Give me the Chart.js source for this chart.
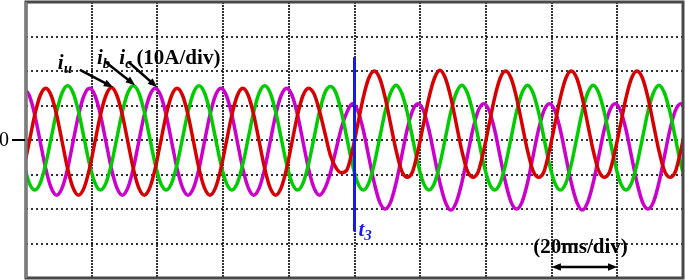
<!DOCTYPE html>
<html>
<head>
<meta charset="utf-8">
<script src="https://cdn.jsdelivr.net/npm/chart.js@4.4.0/dist/chart.umd.min.js"></script>
<style>
body{margin:0;background:#fff}
</style>
</head>
<body>
<canvas id="myChart" width="685" height="280"></canvas>
<script>
// time in ms, currents in A
const time = [
  -0.67, 1, 2.67, 4.33, 6, 7.67, 9.33, 11, 12.67, 14.33, 16, 17.67,
  19.33, 21, 22.67, 24.33, 26, 27.67, 29.33, 31, 32.67, 34.33, 36, 37.67,
  39.33, 41, 42.67, 44.33, 46, 47.67, 49.33, 51, 52.67, 54.33, 56, 57.67,
  59.33, 61, 62.67, 64.33, 66, 67.67, 69.33, 71, 72.67, 74.33, 76, 77.67,
  79.33, 81, 82.67, 84.33, 86, 87.67, 89.33, 91, 92.67, 94.33, 96, 97.67,
  99.33, 101, 102.67, 104.33, 106, 107.67, 109.33, 111, 112.67, 114.33, 116, 117.67,
  119.33, 121, 122.67, 124.33, 126, 127.67, 129.33, 131, 132.67, 134.33, 136, 137.67,
  139.33, 141, 142.67, 144.33, 146, 147.67, 149.33, 151, 152.67, 154.33, 156, 157.67,
  159.33, 161, 162.67, 164.33, 166, 167.67, 169.33, 171, 172.67, 174.33, 176, 177.67,
  179.33, 181, 182.67, 184.33, 186, 187.67, 189.33, 191, 192.67, 194.33, 196, 197.67,
  199.33, 201
]
const iu = [
  -8.3, -0.5, 7.3, 12.9, 15, 12.9, 7.3, -0.5, -8.3, -13.9, -16, -13.9,
  -8.3, -0.5, 7.3, 12.9, 15.2, 12.9, 7.3, -0.5, -8.3, -13.9, -16, -13.9,
  -8.3, -0.5, 7.3, 12.9, 15, 12.9, 7.3, -0.5, -8.3, -13.9, -16, -13.9,
  -8.3, -0.5, 7.3, 12.9, 15, 12.9, 7.3, -0.5, -8.3, -13.9, -16, -13.9,
  -8.3, -0.5, 7.3, 12.9, 15, 13.4, 8.5, 2, -4.5, -8, -9.5, -8.7,
  -3.1, 4.6, 12.3, 17.9, 20, 17.9, 12.3, 4.6, -3.1, -8.9, -10.8, -9.2,
  -3.1, 4.6, 12.3, 17.9, 20.2, 17.9, 12.3, 4.6, -3.1, -8.9, -10.8, -9.2,
  -3.1, 4.6, 12.3, 17.9, 20, 17.9, 12.3, 4.6, -3.1, -8.9, -10.8, -9.2,
  -3.1, 4.6, 12.3, 17.9, 20, 17.9, 12.3, 4.6, -3.1, -8.9, -10.8, -9.2,
  -3.1, 4.6, 12.3, 17.9, 20, 17.9, 12.3, 4.6, -3.1, -8.9, -10.8, -9.2,
  -3.1, 4.6
]
const ib = [
  -7, -12.5, -14.5, -12.5, -7, 0.6, 8.2, 13.7, 15.7, 13.7, 8.2, 0.6,
  -7, -12.5, -14.5, -12.5, -7, 0.6, 8.2, 13.7, 15.7, 13.7, 8.2, 0.6,
  -7, -12.5, -14.5, -12.5, -7, 0.6, 8.2, 13.7, 15.7, 13.7, 8.2, 0.6,
  -7, -12.5, -14.5, -12.5, -7, 0.6, 8.2, 13.7, 15.7, 13.7, 8.2, 0.6,
  -7, -12.5, -14.5, -12.5, -7, 0.6, 8.2, 13.7, 15.5, 13.7, 8.2, 0.6,
  -7, -12.5, -14.5, -12.5, -7, 0.6, 8.2, 13.7, 15.9, 13.7, 8.2, 0.6,
  -7, -12.5, -14.5, -12.5, -7, 0.6, 8.2, 13.7, 15.9, 13.7, 8.2, 0.6,
  -7, -12.5, -14.5, -12.5, -7, 0.6, 8.2, 13.7, 15.9, 13.7, 8.2, 0.6,
  -7, -12.5, -14.5, -12.5, -7, 0.6, 8.2, 13.7, 15.9, 13.7, 8.2, 0.6,
  -7, -12.5, -14.5, -12.5, -7, 0.6, 8.2, 13.7, 15.9, 13.7, 8.2, 0.6,
  -7, -12.5
]
const ic = [
  15, 12.9, 7.3, -0.5, -8.3, -13.9, -16, -13.9, -8.3, -0.5, 7.3, 12.9,
  15, 12.9, 7.3, -0.5, -8.3, -13.9, -16, -13.9, -8.3, -0.5, 7.3, 12.9,
  15, 12.9, 7.3, -0.5, -8.3, -13.9, -16, -13.9, -8.3, -0.5, 7.3, 12.9,
  15, 12.9, 7.3, -0.5, -8.3, -13.9, -16, -13.9, -8.3, -0.5, 7.3, 12.9,
  15, 12.9, 7.3, -0.5, -8.3, -13.9, -16, -14, -9.5, -3, 3.5, 8,
  10.5, 8.5, 2.9, -4.8, -12.4, -18, -20, -18, -12.4, -4.8, 2.9, 8.5,
  10.5, 8.5, 2.9, -4.8, -12.4, -18, -20.3, -18, -12.4, -4.8, 2.9, 8.5,
  10.5, 8.5, 2.9, -4.8, -12.4, -18, -20, -18, -12.4, -4.8, 2.9, 8.5,
  10.5, 8.5, 2.9, -4.8, -12.4, -18, -20.3, -18, -12.4, -4.8, 2.9, 8.5,
  10.5, 8.5, 2.9, -4.8, -12.4, -18, -20, -18, -12.4, -4.8, 2.9, 8.5,
  10.5, 8.5
]
// switching instant t3 marker
const t3Time = [100, 100]
const t3Line = [24, -26.5]

const xTicks = [0, 20, 40, 60, 80, 100, 120, 140, 160, 180, 200]
const yTicks = [-40, -30, -20, -10, 0, 10, 20, 30, 40]

const font = '"Liberation Serif", "Times New Roman", serif'

function pts(t, v){
  return t.map((x, i) => ({x: x, y: v[i]}))
}

function arrowHead(ctx, x, y, ang, size){
  ctx.beginPath()
  ctx.moveTo(x, y)
  ctx.lineTo(x - size*Math.cos(ang - 0.38), y - size*Math.sin(ang - 0.38))
  ctx.lineTo(x - size*Math.cos(ang + 0.38), y - size*Math.sin(ang + 0.38))
  ctx.closePath()
  ctx.fill()
}

function arrow(ctx, x1, y1, x2, y2){
  const a = Math.atan2(y2 - y1, x2 - x1)
  ctx.beginPath()
  ctx.moveTo(x1, y1)
  ctx.lineTo(x2 - 6*Math.cos(a), y2 - 6*Math.sin(a))
  ctx.stroke()
  arrowHead(ctx, x2, y2, a, 10)
}

function subText(ctx, main, sub, x, y, color){
  ctx.fillStyle = color
  ctx.font = 'italic bold 21px ' + font
  ctx.fillText(main, x, y)
  const w = ctx.measureText(main).width
  ctx.font = 'italic bold 15px ' + font
  ctx.fillText(sub, x + w, y + 4)
}

const overlay = {
  id: 'overlay',
  afterDraw(chart){
    const ctx = chart.ctx
    const xs = chart.scales.x
    const ys = chart.scales.y
    const a = chart.chartArea
    const px = v => xs.getPixelForValue(v)
    const py = v => ys.getPixelForValue(v)
    ctx.save()
    // frame
    ctx.lineWidth = 3
    ctx.strokeStyle = '#484848'
    ctx.strokeRect(a.left, a.top, a.right - a.left, a.bottom - a.top)
    ctx.strokeStyle = '#7c7c7c'
    ctx.beginPath()
    ctx.moveTo(a.left, a.top)
    ctx.lineTo(a.left, a.bottom)
    ctx.stroke()
    // zero tick and label
    ctx.strokeStyle = '#000'
    ctx.lineWidth = 2
    ctx.beginPath()
    ctx.moveTo(a.left - 14, py(0))
    ctx.lineTo(a.left - 1, py(0))
    ctx.stroke()
    ctx.fillStyle = '#000'
    ctx.font = '20px ' + font
    ctx.textAlign = 'right'
    ctx.textBaseline = 'middle'
    ctx.fillText('0', a.left - 17, py(0) + 1)
    ctx.textAlign = 'left'
    ctx.textBaseline = 'alphabetic'
    // phase labels
    subText(ctx, 'i', 'u', px(9.7), py(20.6), '#000')
    subText(ctx, 'i', 'b', px(21.6), py(22), '#000')
    subText(ctx, 'i', 'c', px(28.4), py(22), '#000')
    ctx.font = 'bold 21px ' + font
    ctx.fillText('(10A/div)', px(33.6), py(22))
    ctx.lineWidth = 2.5
    arrow(ctx, px(16.4), py(20.3), px(26.5), py(15.3))
    arrow(ctx, px(24.2), py(22.6), px(33.2), py(15.9))
    arrow(ctx, px(31.2), py(22.6), px(39.9), py(15.3))
    // t3
    subText(ctx, 't', '3', px(101.2), py(-27.8), '#1a1ae6')
    // time base
    ctx.fillStyle = '#000'
    ctx.font = 'bold 21px ' + font
    ctx.textAlign = 'center'
    ctx.fillText('(20ms/div)', px(168.8), py(-32.8))
    ctx.lineWidth = 2.5
    const ay = py(-36.8)
    ctx.beginPath()
    ctx.moveTo(px(160) + 6, ay)
    ctx.lineTo(px(180) - 6, ay)
    ctx.stroke()
    arrowHead(ctx, px(180), ay, 0, 10)
    arrowHead(ctx, px(160), ay, Math.PI, 10)
    ctx.restore()
  }
}

const ctx = document.getElementById('myChart')
new Chart(ctx, {
  type: 'line',
  data: {
    datasets: [
      {label: 't3', data: pts(t3Time, t3Line), borderColor: '#1a1ae6', borderWidth: 3, order: 0},
      {label: 'iu', data: pts(time, iu), borderColor: '#d60000', borderWidth: 3.5, order: 1},
      {label: 'ib', data: pts(time, ib), borderColor: '#00cc00', borderWidth: 3.5, order: 1},
      {label: 'ic', data: pts(time, ic), borderColor: '#cc00cc', borderWidth: 3.5, order: 1}
    ]
  },
  options: {
    responsive: false,
    animation: false,
    layout: {padding: {left: 26, right: 2, top: 2, bottom: 2}},
    elements: {point: {radius: 0}, line: {cubicInterpolationMode: 'monotone'}},
    plugins: {legend: {display: false}, tooltip: {enabled: false}},
    scales: {
      x: {
        type: 'linear', min: 0, max: 200,
        afterBuildTicks: s => { s.ticks = xTicks.map(v => ({value: v})) },
        ticks: {display: false},
        grid: {color: 'rgba(0,0,0,0.8)', lineWidth: 2, drawTicks: false},
        border: {display: false, dash: [2, 1]}
      },
      y: {
        type: 'linear', min: -40, max: 40,
        afterBuildTicks: s => { s.ticks = yTicks.map(v => ({value: v})) },
        ticks: {display: false},
        grid: {color: 'rgba(0,0,0,0.8)', lineWidth: 2, drawTicks: false},
        border: {display: false, dash: [2, 3]}
      }
    }
  },
  plugins: [overlay]
})
</script>
</body>
</html>
